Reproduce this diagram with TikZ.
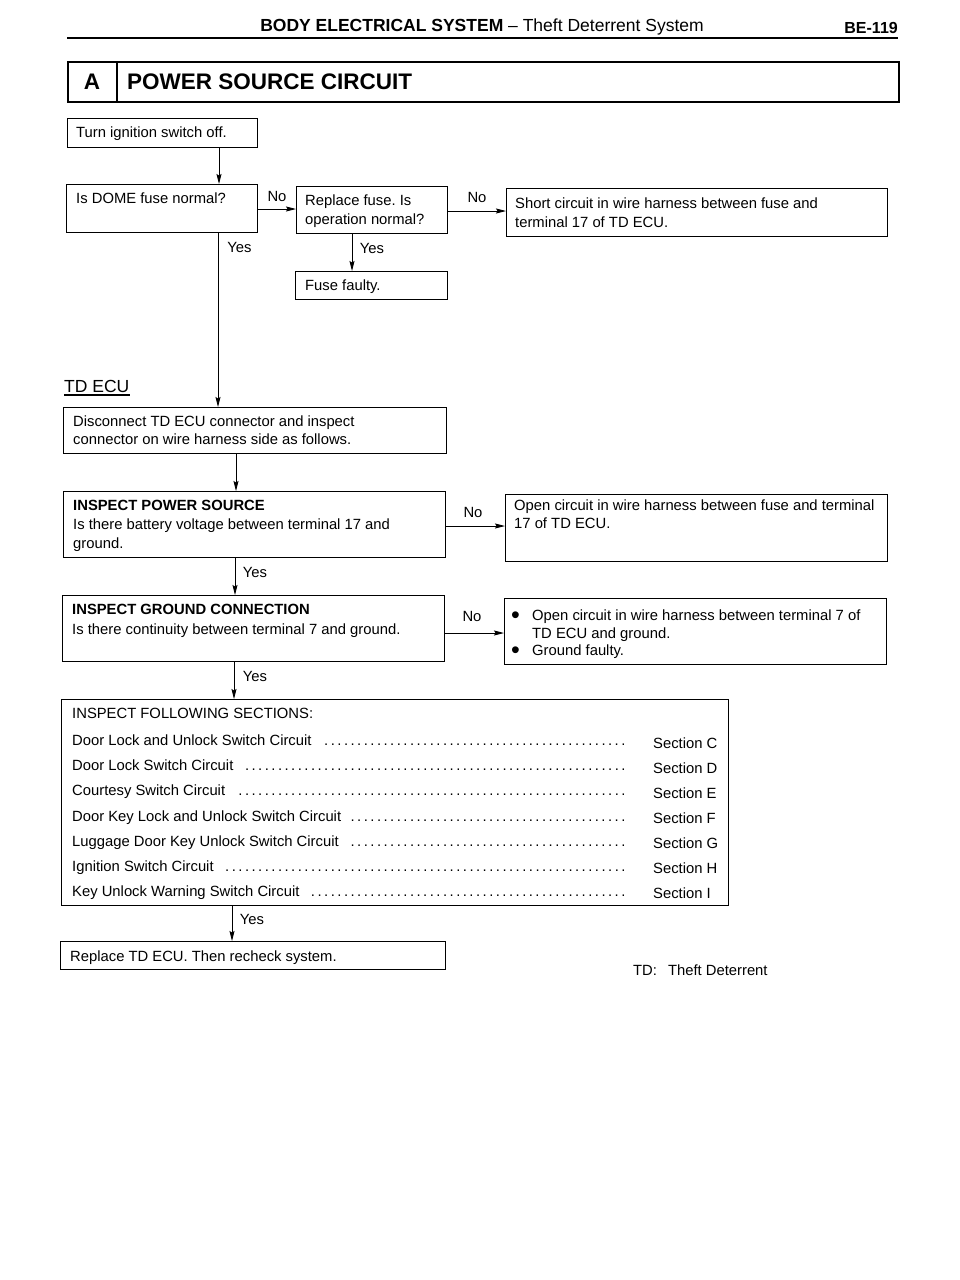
\documentclass[tikz,border=0pt]{standalone}
\usepackage{fontspec}
\setmainfont{Liberation Sans}
\usetikzlibrary{arrows.meta}
\frenchspacing
\newcommand{\firststrut}{\rule{0pt}{12pt}}
\newcommand{\dotrow}[1]{\hbox to 558pt{#1\hskip 7pt\leaders\hbox to 6.6pt{\hss.\hss}\hfill}}
\newcommand{\bul}{\makebox[21pt][l]{\raisebox{-2.6pt}{\fontsize{25}{19}\selectfont\textbullet}}}
\begin{document}
\begin{tikzpicture}[x=1pt,y=-1pt,
  box/.style={draw, line width=1.4pt, inner sep=0pt, anchor=north west},
  txt/.style={inner sep=0pt, anchor=north west, align=left, font=\fontsize{14.8}{19}\selectfont},
  lbl/.style={inner sep=0pt, anchor=base, font=\fontsize{14.8}{19}\selectfont},
  arr/.style={line width=0.9pt, -{Stealth[length=10pt,width=5pt,inset=1.5pt]}},
]
\fill[white] (0,0) rectangle (960,1280);
\useasboundingbox (0,0) rectangle (960,1280);

% header
\node[inner sep=0pt, anchor=base, font=\fontsize{17.5}{20}\selectfont] (hdr) at (482,31)
  {\textbf{BODY ELECTRICAL SYSTEM} -- Theft Deterrent System};
\node[inner sep=0pt, anchor=base east, font=\bfseries\fontsize{16}{20}\selectfont] (page) at (898,33) {BE-119};
\coordinate (rl) at (67,38);
\coordinate (rr) at (898,38);
\draw[line width=2.6pt] (rl) -- (rr);

% title box
\node[box, line width=1.6pt, minimum width=831pt, minimum height=40pt] (title) at (67,61) {};
\coordinate (dv) at (117,0);
\draw[line width=1.4pt] (title.north -| dv) -- (title.south -| dv);
\node[inner sep=0pt, anchor=base, font=\bfseries\fontsize{22.5}{24}\selectfont] (tA) at (92,89) {A};
\node[inner sep=0pt, anchor=base west, font=\bfseries\fontsize{22.5}{24}\selectfont] (tT) at (127,89) {POWER SOURCE CIRCUIT};

% boxes
\node[box, minimum width=190pt, minimum height=29pt] (turn) at (67,118) {};
\node[txt] (turnT) at (76,125.3) {\firststrut Turn ignition switch off.};

\node[box, minimum width=191pt, minimum height=48pt] (dome) at (66,184) {};
\node[txt] (domeT) at (76,191.3) {\firststrut Is DOME fuse normal?};

\node[box, minimum width=151pt, minimum height=47pt] (repl) at (296,186) {};
\node[txt] (replT) at (305,193.3) {\firststrut Replace fuse. Is\\operation normal?};

\node[box, minimum width=381pt, minimum height=48pt] (short) at (506,188) {};
\node[txt] (shortT) at (515,196.3) {\firststrut Short circuit in wire harness between fuse and\\terminal 17 of TD ECU.};

\node[box, minimum width=152pt, minimum height=28pt] (fuse) at (295,271) {};
\node[txt] (fuseT) at (305,278.3) {\firststrut Fuse faulty.};

\node[inner sep=0pt, anchor=base west, font=\fontsize{17.5}{20}\selectfont] (tdecu) at (64,392) {TD ECU};
\draw[line width=1.2pt] ([yshift=-3pt]tdecu.base west) -- ([yshift=-3pt]tdecu.base east);

\node[box, minimum width=383pt, minimum height=46pt] (disc) at (63,407) {};
\node[txt, font=\fontsize{14.8}{18}\selectfont] (discT) at (73,414.3) {\firststrut Disconnect TD ECU connector and inspect\\connector on wire harness side as follows.};

\node[box, minimum width=382pt, minimum height=66pt] (ips) at (63,491) {};
\node[txt] (ipsT) at (73,498.3) {\firststrut\textbf{INSPECT POWER SOURCE}\\Is there battery voltage between terminal 17 and\\ground.};

\node[box, minimum width=382pt, minimum height=67pt] (open) at (505,494) {};
\node[txt, font=\fontsize{14.8}{18}\selectfont] (openT) at (514,498.3) {\firststrut Open circuit in wire harness between fuse and terminal\\17 of TD ECU.};

\node[box, minimum width=382pt, minimum height=66pt] (igc) at (62,595) {};
\node[txt, font=\fontsize{14.8}{20}\selectfont] (igcT) at (72,602.3) {\firststrut\textbf{INSPECT GROUND CONNECTION}\\Is there continuity between terminal 7 and ground.};

\node[box, minimum width=382pt, minimum height=66pt] (bull) at (504,598) {};
\node[txt, font=\fontsize{14.8}{17.5}\selectfont] (bullT) at (511,608.3) {\firststrut\bul Open circuit in wire harness between terminal 7 of\\\hspace*{21pt}TD ECU and ground.\\\bul Ground faulty.};

\node[box, minimum width=667pt, minimum height=206pt] (sect) at (61,699) {};
\node[txt] (sectH) at (72,706.3) {\firststrut INSPECT FOLLOWING SECTIONS:};
\node[txt] (r1) at (72,733.3) {\firststrut\dotrow{Door Lock and Unlock Switch Circuit}};
\node[txt] (r2) at (72,758.5) {\firststrut\dotrow{Door Lock Switch Circuit}};
\node[txt] (r3) at (72,783.6) {\firststrut\dotrow{Courtesy Switch Circuit}};
\node[txt] (r4) at (72,808.8) {\firststrut\dotrow{Door Key Lock and Unlock Switch Circuit}};
\node[txt] (r5) at (72,833.9) {\firststrut\dotrow{Luggage Door Key Unlock Switch Circuit}};
\node[txt] (r6) at (72,859.1) {\firststrut\dotrow{Ignition Switch Circuit}};
\node[txt] (r7) at (72,884.2) {\firststrut\dotrow{Key Unlock Warning Switch Circuit}};
\node[txt] (s1) at (653,735.8) {\firststrut Section C};
\node[txt] (s2) at (653,761.0) {\firststrut Section D};
\node[txt] (s3) at (653,786.1) {\firststrut Section E};
\node[txt] (s4) at (653,811.3) {\firststrut Section F};
\node[txt] (s5) at (653,836.4) {\firststrut Section G};
\node[txt] (s6) at (653,861.6) {\firststrut Section H};
\node[txt] (s7) at (653,886.7) {\firststrut Section I};

\node[box, minimum width=385pt, minimum height=28pt] (final) at (60,941) {};
\node[txt] (finalT) at (70,949.3) {\firststrut Replace TD ECU. Then recheck system.};

\node[txt] (note) at (633,963.3) {\firststrut TD:\hspace{11pt}Theft Deterrent};

% connector positions
\coordinate (xa) at (219,0);
\coordinate (xb) at (218,0);
\coordinate (xc) at (352,0);
\coordinate (xd) at (236,0);
\coordinate (xe) at (235,0);
\coordinate (xf) at (234,0);
\coordinate (xg) at (232,0);
\coordinate (ya) at (0,209);
\coordinate (yb) at (0,211);
\coordinate (yc) at (0,526);
\coordinate (yd) at (0,633);

\draw[arr] (turn.south -| xa) -- (dome.north -| xa);
\draw[arr] (dome.east |- ya) -- (repl.west |- ya);
\draw[arr] (repl.east |- yb) -- (short.west |- yb);
\draw[arr] (dome.south -| xb) -- (disc.north -| xb);
\draw[arr] (repl.south -| xc) -- (fuse.north -| xc);
\draw[arr] (disc.south -| xd) -- (ips.north -| xd);
\draw[arr] (ips.east |- yc) -- (open.west |- yc);
\draw[arr] (ips.south -| xe) -- (igc.north -| xe);
\draw[arr] (igc.east |- yd) -- (bull.west |- yd);
\draw[arr] (igc.south -| xf) -- (sect.north -| xf);
\draw[arr] (sect.south -| xg) -- (final.north -| xg);

% labels
\node[lbl] (no1) at (277,201.3) {No};
\node[lbl] (no2) at (477,202.3) {No};
\node[lbl] (no3) at (473,517.3) {No};
\node[lbl] (no4) at (472,621.3) {No};
\node[lbl] (yes1) at (239.5,252.3) {Yes};
\node[lbl] (yes2) at (372,253.3) {Yes};
\node[lbl] (yes3) at (255,577.3) {Yes};
\node[lbl] (yes4) at (255,681.3) {Yes};
\node[lbl] (yes5) at (252,924.3) {Yes};
\end{tikzpicture}
\end{document}
